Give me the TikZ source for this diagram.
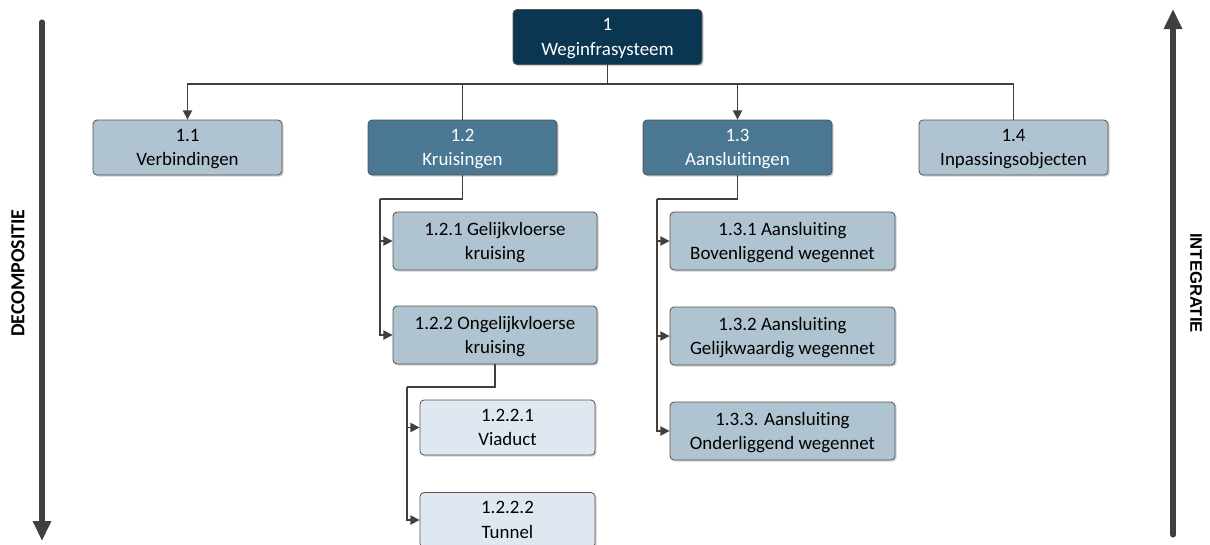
\documentclass[tikz,border=0pt]{standalone}
\usepackage{fontspec}
\setmainfont{Carlito}[Ligatures=NoCommon]
\newfontfamily\arialfont{Liberation Sans}
\usepackage{tikz}
\usetikzlibrary{arrows.meta,positioning,calc,shadows}
\definecolor{wbsnavy}{HTML}{0B3651}
\definecolor{wbsmid}{HTML}{4A7892}
\definecolor{wbslight}{HTML}{AFC3D1}
\definecolor{wbspale}{HTML}{DFE8F1}
\definecolor{wbsline}{HTML}{404040}

\begin{document}
\begin{tikzpicture}[x=0.75pt,y=-0.75pt,
  wbsbox/.style={
    draw=wbsline!90,
    rounded corners=3pt,
    line width=0.6pt,
    align=center,
    inner sep=0pt,
    text depth=0pt,
    font=\fontsize{14.2}{18.5}\selectfont,
    drop shadow={shadow xshift=1.2pt, shadow yshift=-1.2pt, fill=black, opacity=0.18}
  },
  topbox/.style={wbsbox, minimum width=141.75pt, minimum height=41.25pt},
  link/.style={draw=wbsline, line width=1.1pt},
  linkto/.style={link, -{Triangle[length=7pt, width=7pt]}},
  bigarrow/.style={draw=wbsline, line width=3.8pt, line cap=round,
    -{Triangle[length=15pt, width=13pt]}}
]
\useasboundingbox (0,0) rectangle (1210,544);

% top level
\node[topbox, fill=wbsnavy, text=white] (root) at (607.5,37) {1\\Weginfrasysteem};

\node[topbox, fill=wbslight] (k11) at (187.5,147.5) {1.1\\Verbindingen};
\node[topbox, fill=wbsmid, text=white] (k12) at (462.5,147.5) {1.2\\Kruisingen};
\node[topbox, fill=wbsmid, text=white] (k13) at (737.5,147.5) {1.3\\Aansluitingen};
\node[topbox, fill=wbslight] (k14) at (1013.5,147.5) {1.4\\Inpassingsobjecten};

% kruisingen
\node[wbsbox, fill=wbslight, minimum width=153pt, minimum height=43.5pt]
  (k121) at (495,241) {1.2.1 Gelijkvloerse\\kruising};
\node[wbsbox, fill=wbslight, minimum width=153pt, minimum height=43.5pt]
  (k122) at (495,335) {1.2.2 Ongelijkvloerse\\kruising};
\node[wbsbox, fill=wbspale, minimum width=131.25pt, minimum height=41.25pt]
  (k1221) at (507.5,427.5) {1.2.2.1\\Viaduct};
\node[wbsbox, fill=wbspale, minimum width=131.25pt, minimum height=41.25pt]
  (k1222) at (507.5,520) {1.2.2.2\\Tunnel};

% aansluitingen
\node[wbsbox, fill=wbslight, minimum width=168.75pt, minimum height=43.5pt]
  (k131) at (782.5,241) {1.3.1 Aansluiting\\Bovenliggend wegennet};
\node[wbsbox, fill=wbslight, minimum width=168.75pt, minimum height=43.5pt]
  (k132) at (782.5,336) {1.3.2 Aansluiting\\Gelijkwaardig wegennet};
\node[wbsbox, fill=wbslight, minimum width=168.75pt, minimum height=43.5pt]
  (k133) at (782.5,431) {1.3.3. Aansluiting\\Onderliggend wegennet};

% connectors
\coordinate (bus) at (607.5,84);
\draw[link] (root.south) -- (bus);
\draw[linkto] (bus) -| (k11.north);
\draw[link] (bus) -| (k12.north);
\draw[linkto] (bus) -| (k13.north);
\draw[link] (bus) -| (k14.north);

\coordinate (k12rail) at (380,199);
\draw[link] (k12.south) |- (k12rail);
\draw[linkto] (k12rail) |- (k121.west);
\draw[linkto] (k12rail) |- (k122.west);

\coordinate (k122rail) at (407,387);
\draw[link] (k122.south) |- (k122rail);
\draw[linkto] (k122rail) |- (k1221.west);
\draw[linkto] (k122rail) |- (k1222.west);

\coordinate (k13rail) at (657,199);
\draw[link] (k13.south) |- (k13rail);
\draw[linkto] (k13rail) |- (k131.west);
\draw[linkto] (k13rail) |- (k132.west);
\draw[linkto] (k13rail) |- (k133.west);

% side arrows
\coordinate (decotop) at (42,22);
\coordinate (decobot) at (42,541);
\draw[bigarrow] (decotop) -- (decobot);
\node[rotate=90, font=\fontsize{15}{18}\selectfont\bfseries] (decolabel) at (18,273) {DECOMPOSITIE};

\coordinate (integbot) at (1173,535);
\coordinate (integtop) at (1173,9);
\draw[bigarrow] (integbot) -- (integtop);
\node[rotate=-90, font=\arialfont\fontsize{12.5}{15}\selectfont\bfseries] (integlabel) at (1196,283) {INTEGRATIE};
\end{tikzpicture}
\end{document}
